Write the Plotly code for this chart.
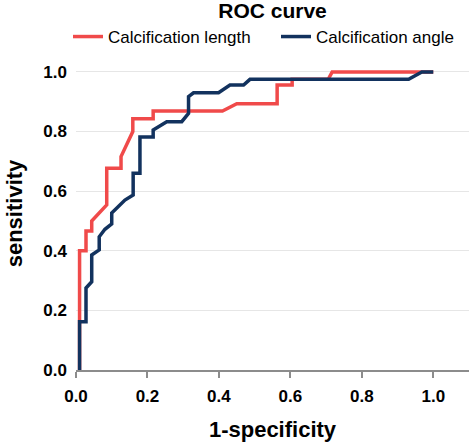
import plotly.graph_objects as go

# Calcification length (red)
length_fpr = [0.01, 0.01, 0.028, 0.028, 0.044, 0.044, 0.086, 0.086, 0.126, 0.126, 0.159, 0.159,
              0.216, 0.216, 0.41, 0.45, 0.563, 0.563, 0.605, 0.605, 0.706, 0.717, 1.0]
length_tpr = [0.0, 0.40, 0.40, 0.466, 0.466, 0.50, 0.554, 0.677, 0.677, 0.716, 0.80, 0.843,
              0.843, 0.869, 0.869, 0.893, 0.893, 0.956, 0.956, 0.975, 0.975, 1.0, 1.0]

# Calcification angle (navy)
angle_fpr = [0.01, 0.01, 0.028, 0.028, 0.044, 0.044, 0.065, 0.065, 0.081, 0.10, 0.10, 0.137, 0.16,
             0.16, 0.179, 0.179, 0.216, 0.216, 0.254, 0.296, 0.315, 0.315, 0.329, 0.399, 0.431,
             0.469, 0.487, 0.931, 0.968, 1.0]
angle_tpr = [0.0, 0.162, 0.162, 0.275, 0.296, 0.386, 0.403, 0.447, 0.472, 0.49, 0.527, 0.57, 0.587,
             0.66, 0.66, 0.782, 0.782, 0.805, 0.833, 0.833, 0.861, 0.917, 0.93, 0.93, 0.956,
             0.956, 0.975, 0.975, 1.0, 1.0]

tick_vals = [0.0, 0.2, 0.4, 0.6, 0.8, 1.0]
tick_text = ["0.0", "0.2", "0.4", "0.6", "0.8", "1.0"]

RED = "#F04A4A"
NAVY = "#12325E"

fig = go.Figure()
fig.add_trace(go.Scatter(x=length_fpr, y=length_tpr, mode="lines", name="Calcification length",
                         line=dict(color=RED, width=3.5), legend="legend"))
fig.add_trace(go.Scatter(x=angle_fpr, y=angle_tpr, mode="lines", name="Calcification angle",
                         line=dict(color=NAVY, width=3.5), legend="legend2"))

bold = dict(family="Liberation Sans, Arial, sans-serif", size=17, color="black")
leg_common = dict(orientation="h", xref="container", yref="container", xanchor="left",
                  yanchor="middle", font=dict(size=17, color="black"),
                  bgcolor="rgba(0,0,0,0)", borderwidth=0)

fig.update_layout(
    width=472, height=444,
    margin=dict(l=76, r=3, t=57, b=74, autoexpand=False),
    paper_bgcolor="white", plot_bgcolor="white",
    font=dict(family="Liberation Sans, Arial, sans-serif", color="black"),
    title=dict(text="<b>ROC curve</b>", x=0.5, xref="paper", xanchor="center",
               y=1 - 11 / 444, yanchor="middle", yref="container",
               font=dict(size=21, color="black")),
    showlegend=True,
    legend=dict(x=68 / 472, y=1 - 37 / 444, **leg_common),
    legend2=dict(x=276 / 472, y=1 - 37 / 444, **leg_common),
    xaxis=dict(range=[0, 1.1], tickvals=tick_vals, ticktext=["<b>%s</b>" % t for t in tick_text],
               tickfont=bold, showgrid=False, zeroline=False, showline=True,
               linecolor="#8c8c8c", linewidth=1.5, ticks="outside", ticklen=6,
               tickcolor="#8c8c8c", tickwidth=1.5, ticklabelstandoff=4,
               title=dict(text="<b>1-specificity</b>", font=dict(size=22, color="black"), standoff=16)),
    yaxis=dict(range=[0, 1.05], tickvals=tick_vals, ticktext=["<b>%s</b>" % t for t in tick_text],
               tickfont=bold, showgrid=True, gridcolor="#e6e6e6", gridwidth=1,
               zeroline=False, showline=False, ticks="", ticklabelstandoff=8,
               title=dict(text="<b>sensitivity</b>", font=dict(size=22, color="black"), standoff=14)),
)

fig.write_html("out.html", config={"displayModeBar": False},
               post_script="document.body.style.margin='0px';document.body.style.overflow='hidden';")
